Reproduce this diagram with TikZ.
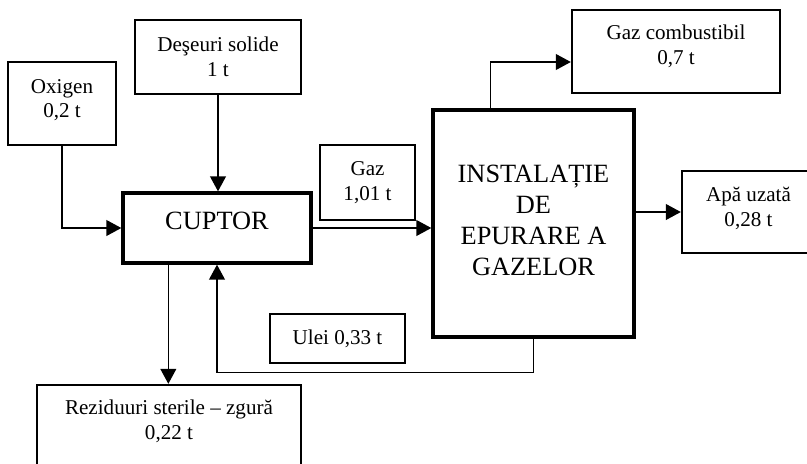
\documentclass[tikz,border=0pt]{standalone}
\usepackage{fontspec}
\setmainfont{Liberation Serif}
\usetikzlibrary{arrows.meta}

\begin{document}
\begin{tikzpicture}[
  box/.style={draw, line width=1.35pt, align=center, inner sep=0pt,
    font=\fontsize{12}{14}\selectfont},
  bigbox/.style={draw, line width=1.9pt, align=center, inner sep=0pt,
    font=\fontsize{15}{17.6}\selectfont},
  flow/.style={line width=0.75pt, -{Triangle[length=8.5pt, width=9pt]}}
]

  % Page frame
  \useasboundingbox (0,0) rectangle (16.14,-9.26);
  \clip (0,0) rectangle (16.14,-9.26);

  % Inputs
  \node[box, minimum width=2.16cm, minimum height=1.66cm, text depth=0.2cm]
    (oxigen) at (1.24,-2.07) {Oxigen\\0,2 t};
  \node[box, minimum width=3.32cm, minimum height=1.48cm]
    (deseuri) at (4.36,-1.14) {Deşeuri solide\\1 t};

  % Furnace
  \node[bigbox, minimum width=3.76cm, minimum height=1.40cm, text depth=0.28cm]
    (cuptor) at (4.34,-4.56) {CUPTOR};

  % Gas cleaning unit
  \node[bigbox, minimum width=4.02cm, minimum height=4.54cm, text depth=0.14cm]
    (instalatie) at (10.67,-4.47) {INSTALAȚIE\\DE\\EPURARE A\\GAZELOR};

  % Flow labels
  \node[box, minimum width=1.90cm, minimum height=1.50cm]
    (gaz) at (7.35,-3.65) {Gaz\\1,01 t};
  \node[box, minimum width=2.70cm, minimum height=0.98cm]
    (ulei) at (6.75,-6.77) {Ulei 0,33 t};

  % Outputs
  \node[box, minimum width=4.16cm, minimum height=1.66cm, text depth=0.28cm]
    (gazcomb) at (13.52,-1.03) {Gaz combustibil\\0,7 t};
  \node[box, minimum width=2.66cm, minimum height=1.64cm, text depth=0.22cm]
    (apa) at (14.97,-4.24) {Apă uzată\\0,28 t};
  \node[box, minimum width=5.28cm, minimum height=1.70cm, text depth=0.32cm]
    (reziduuri) at (3.38,-8.55) {Reziduuri sterile – zgură\\0,22 t};

  % Connectors
  \draw[flow] (oxigen.south) |- (cuptor.west);
  \draw[flow] (deseuri.south) -- (deseuri.south |- cuptor.north);
  \draw[flow] (cuptor.east) -- (cuptor.east -| instalatie.west);
  \draw[flow] ([xshift=1.18cm]instalatie.north west)
    |- ([yshift=-0.21cm]gazcomb.west);
  \draw[flow] (instalatie.east |- apa.west) -- (apa.west);
  \draw[flow] ([xshift=0.94cm]cuptor.south west)
    -- ([xshift=0.94cm]cuptor.south west |- reziduuri.north);

  % Oil return
  \coordinate (retur) at ([yshift=-0.68cm]instalatie.south);
  \draw[flow] (instalatie.south) -- (retur) -| (cuptor.south);

\end{tikzpicture}
\end{document}
